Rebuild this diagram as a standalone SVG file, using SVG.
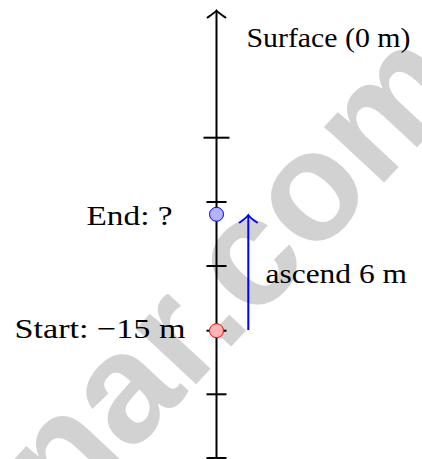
<svg xmlns="http://www.w3.org/2000/svg" width="422" height="459" viewBox="0 0 422 459">
  <style>
    .lbl { font-family: "Liberation Serif", "Times New Roman", serif; font-size: 28px; fill: #000; }
    .wm { font-family: "Liberation Sans", Arial, sans-serif; font-weight: bold; font-size: 155px; fill: #d2d2d2; }
    .axis { stroke: #000; stroke-width: 2; fill: none; }
    .tick { stroke: #000; stroke-width: 2; }
  </style>
  <rect x="0" y="0" width="422" height="459" fill="#fff"/>
  <g id="watermark">
    <text class="wm" transform="translate(36,556) rotate(-47)">inar.com</text>
  </g>
  <g id="axis">
    <line class="axis" x1="216.5" y1="459" x2="216.5" y2="11"/>
    <path class="axis" d="M207.5,17.5 C210.5,15.5 214.5,13 216.5,10.5 C218.5,13 222.5,15.5 225.5,17.5" stroke-width="1.8" stroke-linecap="round"/>
    <line class="tick" x1="203.5" y1="137.7" x2="229.5" y2="137.7"/>
    <line class="tick" x1="206.5" y1="202" x2="226.5" y2="202"/>
    <line class="tick" x1="206.5" y1="266" x2="226.5" y2="266"/>
    <line class="tick" x1="206.5" y1="330.7" x2="226.5" y2="330.7"/>
    <line class="tick" x1="206.5" y1="394.3" x2="226.5" y2="394.3"/>
    <line class="tick" x1="206.5" y1="458" x2="226.5" y2="458"/>
    <text id="surface-label" class="lbl" x="246.5" y="47" textLength="164" lengthAdjust="spacingAndGlyphs">Surface (0 m)</text>
  </g>
  <g id="end">
    <circle cx="216.5" cy="214.3" r="7" fill="#b3b3ff" stroke="#0000ff" stroke-width="1"/>
    <text class="lbl" x="86.5" y="224.5" textLength="86" lengthAdjust="spacingAndGlyphs">End: ?</text>
  </g>
  <g id="start">
    <circle cx="216.5" cy="330.7" r="7" fill="#ffb3b3" stroke="#ff0000" stroke-width="1"/>
    <text class="lbl" x="14.5" y="338.3" textLength="171" lengthAdjust="spacingAndGlyphs">Start: −15 m</text>
  </g>
  <g id="connectors">
    <line x1="248.3" y1="330" x2="248.3" y2="215.5" stroke="#0000ff" stroke-width="2"/>
    <path d="M239.5,222.5 C242.5,220.5 246.3,218 248.3,215 C250.3,218 254.1,220.5 257.1,222.5" stroke="#0000ff" stroke-width="1.8" fill="none" stroke-linecap="round"/>
    <text class="lbl" x="265.5" y="283.3" textLength="141.5" lengthAdjust="spacingAndGlyphs">ascend 6 m</text>
  </g>
</svg>
